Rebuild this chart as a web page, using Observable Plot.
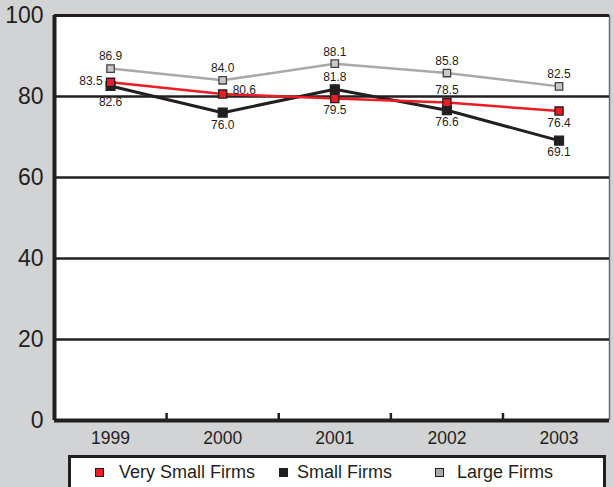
<!DOCTYPE html>
<html>
<head>
<meta charset="utf-8">
<script src="https://cdn.jsdelivr.net/npm/d3@7"></script>
<script src="https://cdn.jsdelivr.net/npm/@observablehq/plot@0.6"></script>
<style>
  html, body { margin: 0; padding: 0; background: #d1d3d4; overflow: hidden; width: 613px; height: 487px; }
  #chart { position: absolute; left: 0; top: 0; }
  #legend { position: absolute; left: 68px; top: 455px; width: 532px; height: 40px; border: 3px solid #231f20; background: #fff;
            font-family: "Liberation Sans", Arial, sans-serif; font-size: 18px; color: #231f20; }
  .sw { position: absolute; top: 10px; width: 9px; height: 9px; box-sizing: border-box; }
  .lb { position: absolute; top: 5px; line-height: 18px; white-space: nowrap; }
</style>
</head>
<body>
<div id="chart"></div>
<div id="legend"></div>
<script>
// ---- data ----
const years = [1999, 2000, 2001, 2002, 2003];
const seriesNames = ["Very Small Firms", "Small Firms", "Large Firms"];
const verySmallFirms = [83.5, 80.6, 79.5, 78.5, 76.4];
const smallFirms = [82.6, 76.0, 81.8, 76.6, 69.1];
const largeFirms = [86.9, 84.0, 88.1, 85.8, 82.5];
const yTicks = [0, 20, 40, 60, 80, 100];

// ---- styling / label placement (not data) ----
const ink = "#231f20";
const styles = {
  "Very Small Firms": { line: "#ed1c24", width: 2.5, fill: "#ed1c24", stroke: ink, r: 4.6 },
  "Small Firms": { line: ink, width: 3, fill: ink, stroke: ink, r: 5 },
  "Large Firms": { line: "#a7a9ac", width: 2.5, fill: "#c7c8ca", stroke: "#414042", r: 4.2 }
};
const placement = {
  "Very Small Firms": ["left", "right", "below", "above", "below"],
  "Small Firms": ["belowFar", "below", "above", "below", "below"],
  "Large Firms": ["above", "above", "above", "above", "above"]
};
const offsets = {
  above: { dx: 0, dy: -12, anchor: "middle" },
  below: { dx: 0, dy: 12, anchor: "middle" },
  belowFar: { dx: 0, dy: 16, anchor: "middle" },
  left: { dx: -8, dy: -1, anchor: "end" },
  right: { dx: 10, dy: -4, anchor: "start" }
};

const valuesBySeries = {
  "Very Small Firms": verySmallFirms,
  "Small Firms": smallFirms,
  "Large Firms": largeFirms
};
const rows = [];
for (const s of seriesNames) {
  years.forEach((yr, i) => rows.push({ series: s, year: yr, value: valuesBySeries[s][i], place: placement[s][i] }));
}

const drawOrder = ["Large Firms", "Small Firms", "Very Small Firms"];
const xMin = 1998.5, xMax = 2003.45;
const tickBetween = years.slice(0, -1).map(y => y + 0.5);

const marks = [
  Plot.frame({ fill: "#fff", stroke: null }),
  Plot.ruleX([xMax], { stroke: "#6d6e71", strokeWidth: 1.5 }),
  Plot.ruleY(yTicks.filter(t => t > 0 && t < 100), { stroke: ink, strokeWidth: 2.5 }),
  Plot.ruleY([100], { stroke: ink, strokeWidth: 3 }),
  Plot.ruleY([0], { stroke: ink, strokeWidth: 4 }),
  Plot.ruleX([xMin], { stroke: ink, strokeWidth: 4 }),
  Plot.tickX(tickBetween, { stroke: ink, strokeWidth: 2.5, insetTop: 398 }),
  Plot.axisY({ ticks: yTicks, tickSize: 0, tickPadding: 11, fontSize: 23, fill: ink, label: null }),
  Plot.axisX({ ticks: years, tickSize: 0, tickPadding: 11, fontSize: 17.5, fill: ink, label: null, tickFormat: d => String(d) })
];
for (const s of drawOrder) {
  const st = styles[s];
  marks.push(Plot.line(rows.filter(r => r.series === s), { x: "year", y: "value", stroke: st.line, strokeWidth: st.width }));
}
for (const s of drawOrder) {
  const st = styles[s];
  marks.push(Plot.dot(rows.filter(r => r.series === s), { x: "year", y: "value", symbol: "square", r: st.r, fill: st.fill, stroke: st.stroke, strokeWidth: 1.3 }));
}
for (const key of Object.keys(offsets)) {
  const o = offsets[key];
  marks.push(Plot.text(rows.filter(r => r.place === key), {
    x: "year", y: "value", text: d => d.value.toFixed(1),
    dx: o.dx, dy: o.dy, textAnchor: o.anchor, fontSize: 12, fill: ink
  }));
}

const chart = Plot.plot({
  width: 613, height: 450,
  marginLeft: 54, marginRight: 4, marginTop: 15, marginBottom: 30,
  x: { domain: [xMin, xMax] },
  y: { domain: [0, 100] },
  style: { background: "transparent", fontFamily: "Liberation Sans, Arial, sans-serif", color: ink, overflow: "visible" },
  marks
});
document.getElementById("chart").appendChild(chart);

// ---- legend (HTML, below/over the bottom of the SVG) ----
const legendPos = { "Very Small Firms": [24, 48], "Small Firms": [208, 226], "Large Firms": [364, 386] };
const legend = document.getElementById("legend");
for (const s of seriesNames) {
  const st = styles[s];
  const sw = document.createElement("div");
  sw.className = "sw";
  sw.style.left = legendPos[s][0] + "px";
  sw.style.background = s === "Large Firms" ? "#a7a9ac" : st.fill;
  sw.style.border = "1.5px solid " + ink;
  legend.appendChild(sw);
  const lb = document.createElement("div");
  lb.className = "lb";
  lb.style.left = legendPos[s][1] + "px";
  lb.textContent = s;
  legend.appendChild(lb);
}
</script>
</body>
</html>
